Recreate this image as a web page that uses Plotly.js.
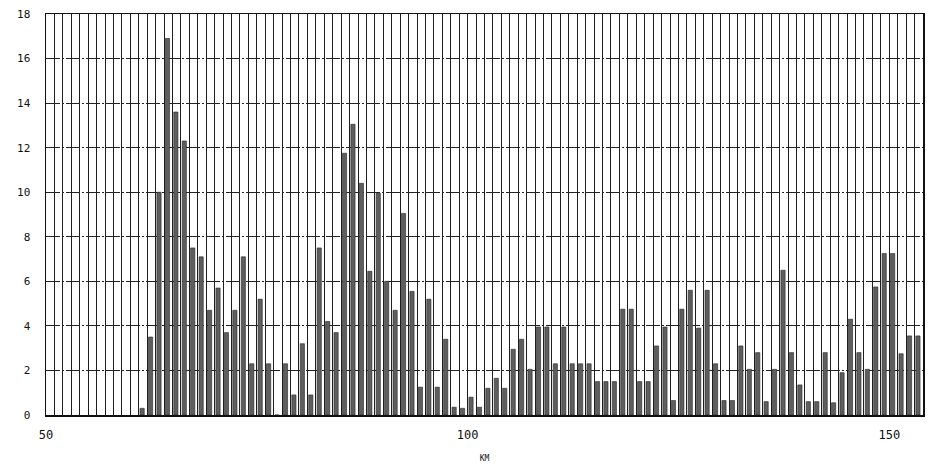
<!DOCTYPE html>
<html>
<head>
<meta charset="utf-8">
<script src="https://cdn.plot.ly/plotly-3.0.1.min.js"></script>
<style>html,body{margin:0;padding:0;background:#fff;}#chart{width:931px;height:472px;}</style>
</head>
<body>
<div id="chart"></div>
<script>
// Kilometre markers (each bar covers km k .. k+1)
const km = [
  61,62,63,64,65,66,67,68,69,70,
  71,72,73,74,75,76,77,78,79,80,
  81,82,83,84,85,86,87,88,89,90,
  91,92,93,94,95,96,97,98,99,100,
  101,102,103,104,105,106,107,108,109,110,
  111,112,113,114,115,116,117,118,119,120,
  121,122,123,124,125,126,127,128,129,130,
  131,132,133,134,135,136,137,138,139,140,
  141,142,143,144,145,146,147,148,149,150,
  151,152,153
];
// Values per km
const values = [
  0.3,3.5,10.0,16.9,13.6,12.3,7.5,7.1,4.7,5.7,
  3.7,4.7,7.1,2.3,5.2,2.3,0,2.3,0.9,3.2,
  0.9,7.5,4.2,3.7,11.75,13.05,10.4,6.45,9.95,6.0,
  4.7,9.05,5.55,1.25,5.2,1.25,3.4,0.35,0.3,0.8,
  0.35,1.2,1.65,1.2,2.95,3.4,2.05,3.95,3.95,2.3,
  3.95,2.3,2.3,2.3,1.5,1.5,1.5,4.75,4.75,1.5,
  1.5,3.1,3.95,0.65,4.75,5.6,3.9,5.6,2.3,0.65,
  0.65,3.1,2.05,2.8,0.6,2.05,6.5,2.8,1.35,0.6,
  0.6,2.8,0.55,1.9,4.3,2.8,2.05,5.75,7.25,7.25,
  2.75,3.55,3.55
];
const xTicks = [50, 100, 150];
const yTicks = [0, 2, 4, 6, 8, 10, 12, 14, 16, 18];
const xTitle = "KM";

const mono = "DejaVu Sans Mono, Liberation Mono, monospace";

const trace = {
  type: 'bar',
  x: km,
  y: values,
  width: 0.5,
  offset: 0.15,
  marker: { color: '#5e5e5e', line: { color: '#262626', width: 0.6 } },
  hoverinfo: 'x+y'
};

const layout = {
  width: 931,
  height: 472,
  margin: { l: 46, r: 8, t: 14, b: 57 },
  paper_bgcolor: '#ffffff',
  plot_bgcolor: '#ffffff',
  showlegend: false,
  bargap: 0,
  xaxis: {
    range: [50, 154],
    tickmode: 'array',
    tickvals: xTicks,
    ticktext: xTicks.map(String),
    ticks: '',
    ticklabelstandoff: 8,
    tickfont: { family: mono, size: 12, color: '#111' },
    showgrid: true,
    gridcolor: '#1e1e1e',
    gridwidth: 1,
    minor: { dtick: 1, tick0: 50, showgrid: true, gridcolor: '#1e1e1e', gridwidth: 1, ticks: '' },
    showline: true,
    linecolor: '#111',
    linewidth: 1.5,
    mirror: true,
    zeroline: false,
    title: { text: xTitle, font: { family: mono, size: 8, color: '#111' }, standoff: 14 }
  },
  yaxis: {
    range: [0, 18],
    tickmode: 'array',
    tickvals: yTicks,
    ticktext: yTicks.map(String),
    ticks: '',
    ticklabelstandoff: 12,
    tickfont: { family: mono, size: 11, color: '#111' },
    showgrid: true,
    gridcolor: '#222',
    gridwidth: 1.2,
    griddash: '14px,2px,2px,2px',
    showline: true,
    linecolor: '#111',
    linewidth: 1.5,
    mirror: true,
    zeroline: false
  }
};

Plotly.newPlot('chart', [trace], layout, { displayModeBar: false, staticPlot: true });
</script>
</body>
</html>
